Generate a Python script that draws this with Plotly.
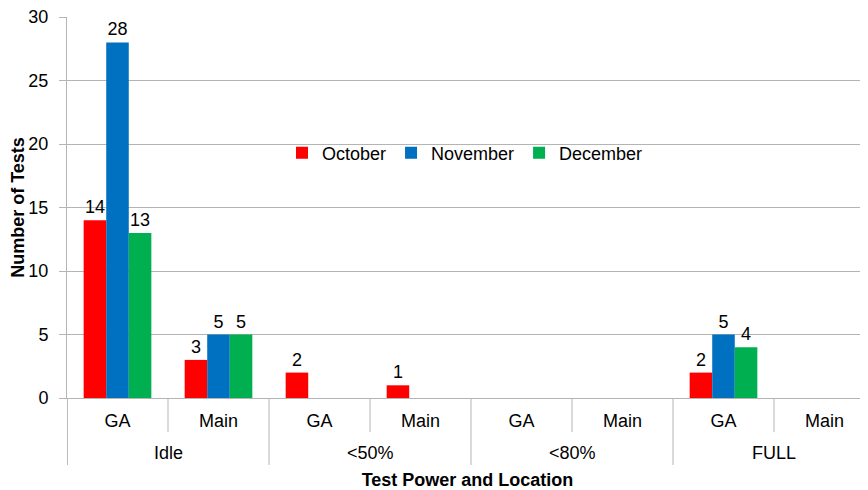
import plotly.graph_objects as go

# ---- data ----
groups = ["Idle", "Idle", "<50%", "<50%", "<80%", "<80%", "FULL", "FULL"]
locations = ["GA", "Main", "GA", "Main", "GA", "Main", "GA", "Main"]
series_names = ["October", "November", "December"]
october = [14, 3, 2, 1, 0, 0, 2, 0]
november = [28, 5, 0, 0, 0, 0, 5, 0]
december = [13, 5, 0, 0, 0, 0, 4, 0]
y_ticks = [0, 5, 10, 15, 20, 25, 30]

colors = ["#FF0000", "#0070C0", "#00B050"]
FONT = "Liberation Sans, Arial, sans-serif"
GRID = "#B4B4B4"

x_idx = list(range(len(locations)))

fig = go.Figure()
for name, vals, col in zip(series_names, [october, november, december], colors):
    fig.add_trace(go.Bar(
        name=name, x=x_idx, y=vals,
        marker=dict(color=col, line=dict(width=0)),
        text=[str(v) if v else "" for v in vals],
        textposition="outside",
        textfont=dict(size=18, color="#000000", family=FONT),
        cliponaxis=False,
    ))

# category boundary lines and group labels
shapes = []
annotations = []
n = len(locations)
PLOT_H = 381
inner_len = -34 / PLOT_H
outer_len = -67 / PLOT_H
for i in range(-1, n - 1):
    b = i + 0.5
    if i == -1 or groups[i] != groups[i + 1]:
        y1 = outer_len
    else:
        y1 = inner_len
    xb = b + (0.004 if i == -1 else 0)
    shapes.append(dict(type="line", xref="x", yref="paper",
                       x0=xb, x1=xb, y0=0, y1=y1,
                       line=dict(color=GRID, width=1)))

seen = []
for g in groups:
    if g not in seen:
        seen.append(g)
for g in seen:
    idxs = [i for i, gg in enumerate(groups) if gg == g]
    annotations.append(dict(text=g, x=sum(idxs) / len(idxs), xref="x",
                            y=-55 / PLOT_H, yref="paper", yanchor="middle",
                            showarrow=False,
                            font=dict(size=18, color="#000000", family=FONT)))

# page body has an 8px margin, so the figure is sized to the visible window
fig.update_layout(
    width=860, height=482,
    margin=dict(l=59, r=0, t=9, b=92, autoexpand=False),
    paper_bgcolor="white", plot_bgcolor="white",
    barmode="group", bargap=0.33, bargroupgap=0,
    font=dict(family=FONT, size=18, color="#000000"),
    showlegend=True,
    legend=dict(orientation="h", x=215 / 801, xanchor="left",
                y=(PLOT_H - 136) / PLOT_H, yanchor="middle",
                bgcolor="rgba(0,0,0,0)", font=dict(size=18, family=FONT),
                traceorder="normal"),
    shapes=shapes,
    annotations=annotations,
)

fig.update_xaxes(
    range=[-0.5, -0.5 + 801 / 101],
    tickmode="array", tickvals=x_idx, ticktext=locations,
    ticks="", showgrid=False, zeroline=False,
    showline=True, linecolor=GRID, linewidth=1,
    ticklabelstandoff=6, automargin=False, ticklabeloverflow="allow",
    tickfont=dict(size=18, family=FONT),
    title=dict(text="<b>Test Power and Location</b>", standoff=43,
               font=dict(size=18, family=FONT)),
)
fig.update_yaxes(
    range=[0, 30], tickmode="array", tickvals=y_ticks,
    ticks="outside", ticklen=7, tickcolor=GRID,
    showgrid=True, gridcolor=GRID, gridwidth=1,
    zeroline=False, showline=True, linecolor=GRID, linewidth=1,
    ticklabelstandoff=7, automargin=False, ticklabeloverflow="allow",
    tickfont=dict(size=18, family=FONT),
    title=dict(text="<b>Number of Tests</b>", standoff=23,
               font=dict(size=18, family=FONT)),
)

fig.write_html("out.html")
